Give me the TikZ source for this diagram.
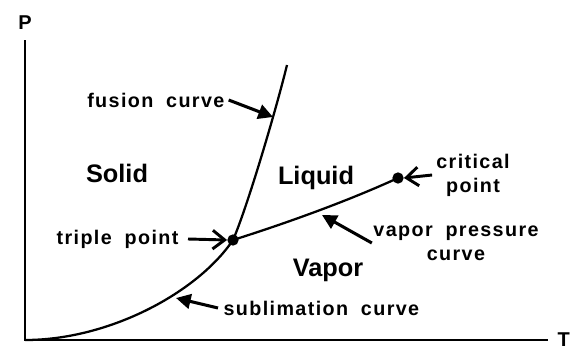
\documentclass[tikz,border=0pt]{standalone}
\usepackage{fontspec}
\setmainfont{Liberation Sans}
\newfontfamily\labelfont[LetterSpace=7]{Liberation Sans}
\usetikzlibrary{positioning,arrows.meta}
\newcommand{\wgap}{\hspace{0.65em}}
\tikzset{
  axis-line/.style={line width=2pt, draw=black},
  axis-title/.style={font=\fontsize{15}{17}\selectfont\bfseries, inner sep=0pt},
  phase-curve/.style={line width=1.7pt, draw=black},
  phase-label/.style={font=\fontsize{19}{21}\selectfont\bfseries},
  curve-label/.style={font=\labelfont\bfseries\fontsize{14.8}{18}\selectfont, align=center, inner sep=1pt},
  solid-arrow/.style={-{Triangle[length=11pt,width=11pt]}, line width=2.3pt, draw=black},
  open-arrow/.style={-{Straight Barb[length=9pt,width=14pt]}, line width=2.2pt, draw=black},
  point-dot/.style={circle, fill=black, inner sep=0pt, minimum size=8.5pt}
}
\begin{document}
\begin{tikzpicture}[x=0.75pt, y=-0.75pt]
\useasboundingbox (0,0) rectangle (574,350);
% Axes
\coordinate (origin) at (25,340);
\coordinate (ytop) at (25,40);
\coordinate (xend) at (548,340);
\draw[axis-line] (ytop) -- (origin) -- (xend);
\node[axis-title, above=8pt of ytop] (P) {P};
\node[axis-title, right=7pt of xend] (T) {T};

% Phase boundaries
\coordinate (triple) at (233,240);
\coordinate (critical) at (398,178);
\coordinate (fusiontop) at (287,65);
\draw[phase-curve] (origin) .. controls (110,340) and (198,292) .. (triple)
  .. controls (247,208) and (276,110) .. (fusiontop);
\draw[phase-curve] (triple) .. controls (290,222) and (350,200) .. (critical);
\node[point-dot] (tp) at (triple) {};
\node[point-dot] (cp) at (critical) {};

% Phase regions
\node[phase-label] (solid) at (117,173) {Solid};
\node[phase-label] (liquid) at (316,178) {Liquid};
\node[phase-label] (vapor) at (328,270) {Vapor};

% Curve labels
\coordinate (fusionpt) at (273,117);
\coordinate (vappt) at (322,215);
\coordinate (subpt) at (176,298);
\node[curve-label, anchor=east] (fusionlbl) at (226,100) {fusion\wgap curve};
\node[curve-label, anchor=east] (triplelbl) at (180,239) {triple\wgap point};
\node[curve-label] (critlbl) at (473,175) {critical\\point};
\node[curve-label] (vaplbl) at (456,243) {vapor\wgap pressure\\curve};
\node[curve-label, anchor=west] (sublbl) at (222,308) {sublimation\wgap curve};

\draw[solid-arrow] ([xshift=2pt]fusionlbl.east) -- (fusionpt);
\draw[open-arrow] ([xshift=6pt]triplelbl.east) -- (tp.west);
\draw[open-arrow] ([xshift=-2pt]critlbl.west) -- (cp.east);
\draw[solid-arrow] (vaplbl.west) -- (vappt);
\draw[solid-arrow] ([xshift=-3pt]sublbl.west) -- (subpt);
\end{tikzpicture}
\end{document}
